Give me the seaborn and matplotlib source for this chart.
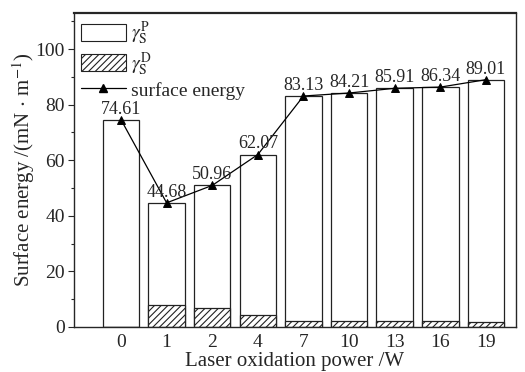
import numpy as np
import pandas as pd
import seaborn as sns
import matplotlib.pyplot as plt
from matplotlib.patches import Patch
from matplotlib.lines import Line2D

# data
power = ["0", "1", "2", "4", "7", "10", "13", "16", "19"]
surface_energy = [74.61, 44.68, 50.96, 62.07, 83.13, 84.21, 85.91, 86.34, 89.01]
gamma_d = [0.0, 7.9, 6.8, 4.4, 2.2, 2.2, 2.1, 2.0, 1.8]

df = pd.DataFrame({"power": power, "total": surface_energy, "disp": gamma_d})

sns.set_style("ticks")
plt.rcParams["font.family"] = ["Liberation Serif", "DejaVu Serif"]
plt.rcParams["mathtext.fontset"] = "stix"
plt.rcParams["hatch.linewidth"] = 0.8

fig, ax = plt.subplots(figsize=(5.25, 3.72), dpi=100)

# total surface energy bars (polar part shown as white)
sns.barplot(data=df, x="power", y="total", color="white", edgecolor="#222222",
            linewidth=0.9, width=0.8, ax=ax)
# dispersive part, hatched
sns.barplot(data=df, x="power", y="disp", color="white", edgecolor="#222222",
            linewidth=0.9, width=0.8, hatch="/////", ax=ax)
# surface energy line
sns.pointplot(data=df, x="power", y="total", color="black", markers="^",
              markersize=6, linewidth=0.9, ax=ax)

for i, v in enumerate(surface_energy):
    ax.annotate(f"{v:.2f}", (i, v), xytext=(0, 1.5), textcoords="offset points",
                ha="center", va="bottom", fontsize=13)

ax.set_xlim(-1.03, 8.66)
ax.set_ylim(0, 113)
ax.set_yticks([0, 20, 40, 60, 80, 100])
ax.set_yticks(np.arange(10, 111, 20), minor=True)
ax.tick_params(axis="y", which="major", length=4.5, width=0.8, labelsize=14, pad=2)
ax.tick_params(axis="y", which="minor", length=2.5, width=0.8)
ax.tick_params(axis="x", length=0, labelsize=14, pad=5)
ax.set_xlabel("Laser oxidation power /W", fontsize=15, labelpad=1)
ax.set_ylabel(r"Surface energy /(mN $\cdot$ m$^{-1}$)", fontsize=15, labelpad=-1)

for side in ["top", "right", "left", "bottom"]:
    ax.spines[side].set_visible(True)
    ax.spines[side].set_linewidth(1.0)
ax.spines["top"].set_linewidth(1.6)

handles = [
    Patch(facecolor="white", edgecolor="#222222", linewidth=0.8),
    Patch(facecolor="white", edgecolor="#222222", hatch="/////", linewidth=0.8),
    Line2D([], [], color="black", marker="^", markersize=6, linewidth=0.9),
]
labels = [r"$\gamma_\mathrm{S}^\mathrm{P}$", r"$\gamma_\mathrm{S}^\mathrm{D}$",
          "surface energy"]
ax.legend(handles, labels, loc="upper left", frameon=False, fontsize=14,
          handlelength=2.3, handleheight=1.0, handletextpad=0.3,
          labelspacing=0.15, borderaxespad=0.15, borderpad=0.2)

fig.subplots_adjust(left=0.141, right=0.983, top=0.965, bottom=0.121)
fig.savefig("out.png", dpi=100)
